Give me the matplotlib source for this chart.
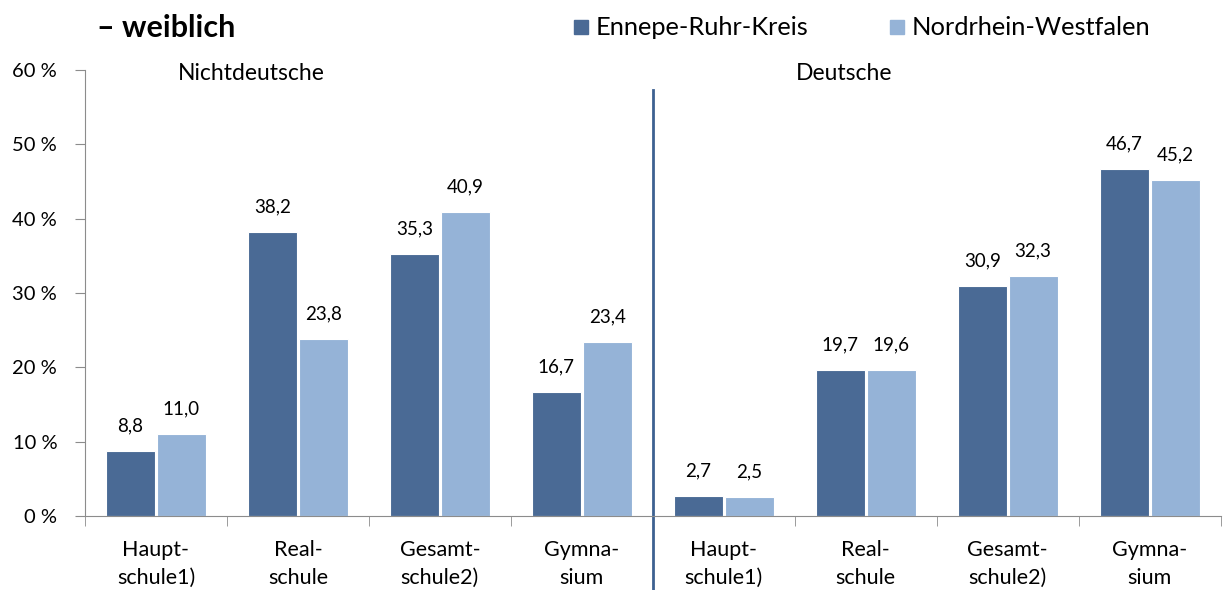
import numpy as np
import matplotlib
matplotlib.use("Agg")
import matplotlib.pyplot as plt
from matplotlib.patches import Rectangle
from matplotlib.lines import Line2D

plt.rcParams["font.family"] = ["Lato", "DejaVu Sans"]

# data
CATEGORIES = ["Haupt-\nschule1)", "Real-\nschule", "Gesamt-\nschule2)", "Gymna-\nsium"] * 2
GROUPS = ["Nichtdeutsche", "Deutsche"]
ERK = [8.8, 38.2, 35.3, 16.7, 2.7, 19.7, 30.9, 46.7]
NRW = [11.0, 23.8, 40.9, 23.4, 2.5, 19.6, 32.3, 45.2]
SERIES = ["Ennepe-Ruhr-Kreis", "Nordrhein-Westfalen"]
YTICKS = [0, 10, 20, 30, 40, 50, 60]

DARK = "#4a6a95"
LIGHT = "#95b3d7"
SEP = "#3d6191"

fig = plt.figure(figsize=(12.23, 5.90), dpi=100)
ax = fig.add_axes([0.0695, 0.1254, 0.9285, 0.756])

x = np.arange(len(CATEGORIES))
w = 0.345
b1 = ax.bar(x - w / 2 - 0.007, ERK, w, color=DARK, edgecolor="white", linewidth=0.8)
b2 = ax.bar(x + w / 2 + 0.007, NRW, w, color=LIGHT, edgecolor="white", linewidth=0.8)

def fmt(v):
    return f"{v:.1f}".replace(".", ",")

for bars, vals in ((b1, ERK), (b2, NRW)):
    for r, v in zip(bars, vals):
        ax.annotate(fmt(v), (r.get_x() + r.get_width() / 2, v), xytext=(0, 12),
                    textcoords="offset points", ha="center", va="bottom", fontsize=13.5)

ax.set_xlim(-0.5, len(CATEGORIES) - 0.5)
ax.set_ylim(0, 60)
ax.set_yticks(YTICKS)
ax.set_yticklabels([f"{t} %" for t in YTICKS], fontsize=14.5)
ax.set_xticks(x)
ax.set_xticklabels(CATEGORIES, fontsize=15.5, linespacing=1.5)
ax.tick_params(axis="x", which="major", length=0, pad=17)
ax.set_xticks(np.arange(-0.5, len(CATEGORIES)), minor=True)
ax.tick_params(axis="x", which="minor", length=7, color="#8c8c8c")
ax.tick_params(axis="y", length=7, color="#8c8c8c", pad=13)
for s in ("top", "right"):
    ax.spines[s].set_visible(False)
for s in ("left", "bottom"):
    ax.spines[s].set_color("#8c8c8c")

# separator between the two groups
tr = ax.get_xaxis_transform()
ax.add_line(Line2D([3.5, 3.5], [-0.166, 0.955], transform=tr, color=SEP, lw=2, clip_on=False))

ax.text(0.67, 0.992, GROUPS[0], transform=tr, ha="center", va="center", fontsize=16.5)
ax.text(4.85, 0.992, GROUPS[1], transform=tr, ha="center", va="center", fontsize=16.5)

fig.text(0.079, 0.953, "– weiblich", fontsize=22, fontweight="bold", ha="left", va="center")

# legend
for xs, col, lab in ((0.4695, DARK, SERIES[0]), (0.7275, LIGHT, SERIES[1])):
    fig.patches.append(Rectangle((xs, 0.942), 0.0115, 0.024, transform=fig.transFigure,
                                 color=col))
    fig.text(xs + 0.0175, 0.953, lab, fontsize=18.3, ha="left", va="center")

fig.savefig("out.png", dpi=100)
